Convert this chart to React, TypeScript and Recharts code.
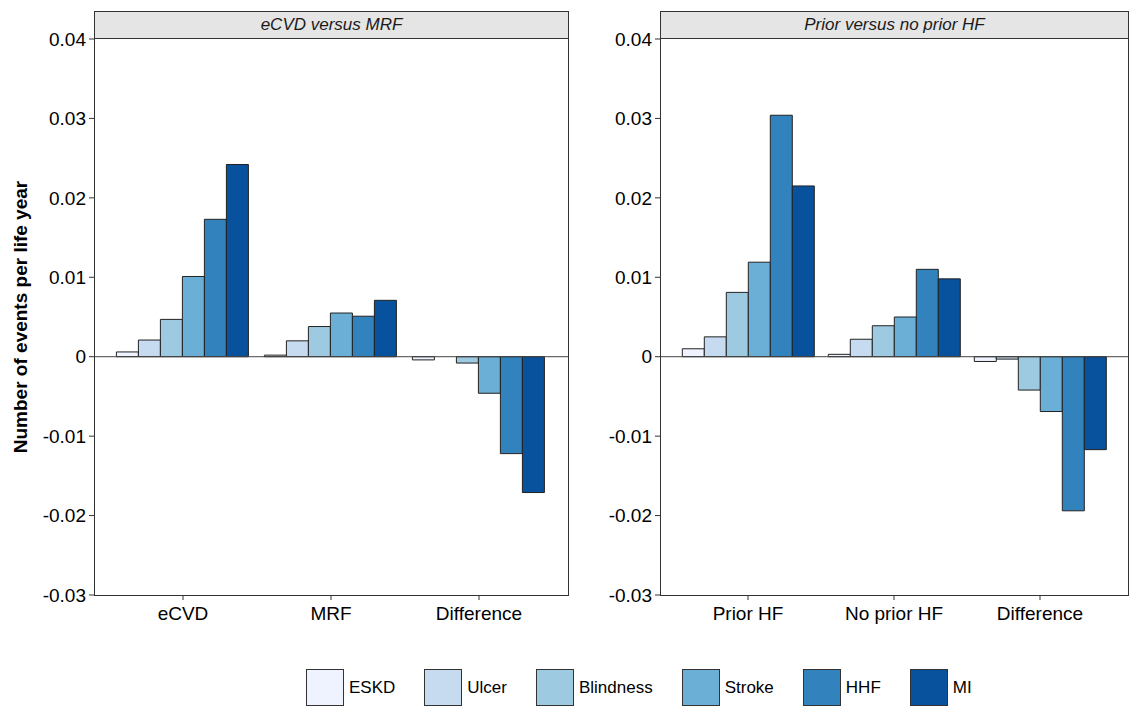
import { Bar, BarChart, ReferenceLine, XAxis, YAxis } from "recharts";

const outcomes = ["ESKD", "Ulcer", "Blindness", "Stroke", "HHF", "MI"];
const outcomeColors = ["#eff3ff", "#c6dbef", "#9ecae1", "#6baed6", "#3182bd", "#08519c"];
const yTicks = [-0.03, -0.02, -0.01, 0, 0.01, 0.02, 0.03, 0.04];

// panel 1: eCVD versus MRF
const cvdCategories = ["eCVD", "MRF", "Difference"];
const cvdESKD = [0.0006, 0.0002, -0.0004];
const cvdUlcer = [0.0021, 0.002, 0.0];
const cvdBlindness = [0.0047, 0.0038, -0.0008];
const cvdStroke = [0.0101, 0.0055, -0.0046];
const cvdHHF = [0.0173, 0.0051, -0.0122];
const cvdMI = [0.0242, 0.0071, -0.0171];

// panel 2: prior versus no prior HF
const hfCategories = ["Prior HF", "No prior HF", "Difference"];
const hfESKD = [0.001, 0.0003, -0.0006];
const hfUlcer = [0.0025, 0.0022, -0.0003];
const hfBlindness = [0.0081, 0.0039, -0.0042];
const hfStroke = [0.0119, 0.005, -0.0069];
const hfHHF = [0.0304, 0.011, -0.0194];
const hfMI = [0.0215, 0.0098, -0.0117];

function buildRows(categories: string[], series: number[][]) {
  return categories.map((c, i) => {
    const row: Record<string, string | number> = { category: c };
    outcomes.forEach((o, j) => {
      row[o] = series[j][i];
    });
    return row;
  });
}

const cvdData = buildRows(cvdCategories, [cvdESKD, cvdUlcer, cvdBlindness, cvdStroke, cvdHHF, cvdMI]);
const hfData = buildRows(hfCategories, [hfESKD, hfUlcer, hfBlindness, hfStroke, hfHHF, hfMI]);

const FONT = "'Liberation Sans', Arial, sans-serif";
const PLOT_TOP = 39;
const PLOT_H = 556;

interface PanelProps {
  left: number;
  width: number;
  axisWidth: number;
  rightMargin: number;
  title: string;
  data: Record<string, string | number>[];
  showYTitle?: boolean;
}

function Panel({ left, width, axisWidth, rightMargin, title, data, showYTitle }: PanelProps) {
  const plotW = width - axisWidth - rightMargin;
  return (
    <div style={{ position: "absolute", left, top: 0, width, height: 640 }}>
      <BarChart
        width={width}
        height={640}
        data={data}
        margin={{ top: PLOT_TOP, right: rightMargin, left: 0, bottom: 5 }}
        barCategoryGap="5%"
        barGap={0}
      >
        <XAxis
          dataKey="category"
          height={40}
          axisLine={false}
          tickSize={5}
          tickMargin={7}
          tickLine={{ stroke: "#333" }}
          tick={{ fill: "#000", fontSize: 19, fontFamily: FONT }}
          padding={{ left: 15, right: 15 }}
          interval={0}
        />
        <YAxis
          domain={[-0.03, 0.04]}
          ticks={yTicks}
          allowDataOverflow
          width={axisWidth}
          axisLine={false}
          tickSize={5}
          tickMargin={3}
          tickLine={{ stroke: "#333" }}
          tick={{ fill: "#000", fontSize: 19, fontFamily: FONT }}
          tickFormatter={(v: number) => (v === 0 ? "0" : v.toFixed(2))}
          label={
            showYTitle
              ? {
                  content: (props: any) => {
                    const vb = props.viewBox || { x: 0, y: PLOT_TOP, height: PLOT_H };
                    const cx = vb.x + 20;
                    const cy = vb.y + vb.height / 2;
                    return (
                      <text
                        x={cx}
                        y={cy}
                        transform={`rotate(-90, ${cx}, ${cy})`}
                        textAnchor="middle"
                        dominantBaseline="central"
                        fontFamily={FONT}
                        fontSize={19}
                        fontWeight="bold"
                        fill="#000"
                      >
                        Number of events per life year
                      </text>
                    );
                  },
                }
              : undefined
          }
        />
        {outcomes.map((o, i) => (
          <Bar
            key={o}
            dataKey={o}
            fill={outcomeColors[i]}
            stroke="#222"
            strokeWidth={1}
            isAnimationActive={false}
          />
        ))}
        <ReferenceLine y={0} stroke="#444" strokeWidth={1} />
      </BarChart>
      <div
        style={{
          position: "absolute",
          left: axisWidth,
          top: 11,
          width: plotW + 1,
          height: 28,
          boxSizing: "border-box",
          border: "1px solid #333",
          background: "#e5e5e5",
          fontFamily: FONT,
          fontStyle: "italic",
          fontSize: 17,
          color: "#1a1a1a",
          display: "flex",
          alignItems: "center",
          justifyContent: "center",
        }}
      >
        {title}
      </div>
      <div
        style={{
          position: "absolute",
          left: axisWidth,
          top: PLOT_TOP - 1,
          width: plotW + 1,
          height: PLOT_H + 2,
          boxSizing: "border-box",
          border: "1px solid #333",
          pointerEvents: "none",
        }}
      />
    </div>
  );
}

export default function App() {
  return (
    <div
      style={{
        position: "absolute",
        left: 0,
        top: 0,
        width: 1129,
        height: 707,
        background: "#fff",
        overflow: "hidden",
        fontFamily: FONT,
      }}
    >
      <Panel left={0} width={575} axisWidth={94} rightMargin={7} title="eCVD versus MRF" data={cvdData} showYTitle />
      <Panel left={575} width={554} axisWidth={85} rightMargin={1} title="Prior versus no prior HF" data={hfData} />
      <div
        style={{
          position: "absolute",
          left: 306,
          top: 669,
          display: "flex",
          alignItems: "center",
          gap: 29,
        }}
      >
        {outcomes.map((o, i) => (
          <div key={o} style={{ display: "flex", alignItems: "center" }}>
            <div
              style={{
                width: 38,
                height: 37,
                boxSizing: "border-box",
                border: "1px solid #333",
                background: outcomeColors[i],
              }}
            />
            <span style={{ marginLeft: 5, fontSize: 17, color: "#000" }}>{o}</span>
          </div>
        ))}
      </div>
    </div>
  );
}
